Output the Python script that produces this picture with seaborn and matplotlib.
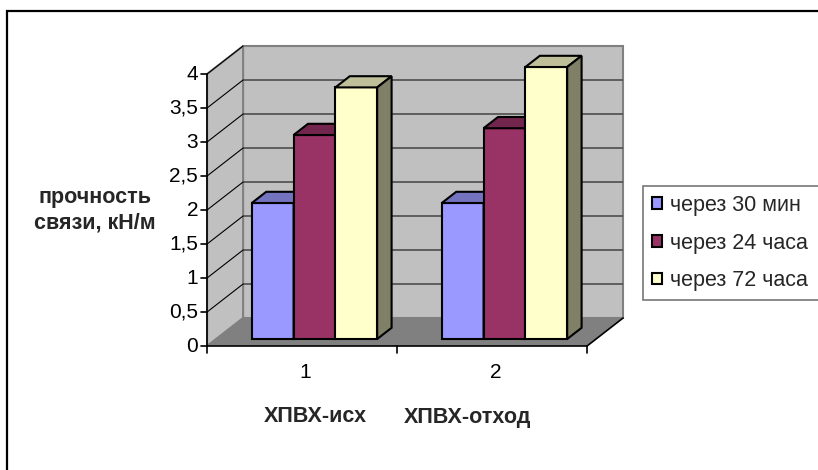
import numpy as np
import pandas as pd
import matplotlib
matplotlib.use("Agg")
import matplotlib.pyplot as plt
import seaborn as sns
from matplotlib.patches import Polygon, Rectangle, Patch
from matplotlib.colors import to_rgba

# ---- data -------------------------------------------------------------
categories = ["1", "2"]
series = ["через 30 мин", "через 24 часа", "через 72 часа"]
vals_30min = [2.0, 2.0]
vals_24h = [3.0, 3.1]
vals_72h = [3.7, 4.0]
y_ticks = [0, 0.5, 1, 1.5, 2, 2.5, 3, 3.5, 4]
y_tick_labels = ["0", "0,5", "1", "1,5", "2", "2,5", "3", "3,5", "4"]
group_titles = ["ХПВХ-исх", "ХПВХ-отход"]
y_title = "прочность\nсвязи, кН/м"

# ---- colours ----------------------------------------------------------
front_colors = ["#9999FF", "#993366", "#FFFFCC"]
top_colors = ["#7373BF", "#73264D", "#BFBF99"]
side_colors = ["#4D4D80", "#4D1A33", "#808066"]
wall_color = "#C0C0C0"
floor_color = "#808080"
edge_gray = "#808080"
grid_color = "#4D4D4D"

W, H = 818, 470
sns.set_theme(style="white")
plt.rcParams["font.family"] = ["Liberation Sans", "DejaVu Sans"]

fig = plt.figure(figsize=(W / 100, H / 100), dpi=100)
ax = fig.add_axes([0, 0, 1, 1])

# oblique projection: category / value units on the bar plane, depth t
CX, CY = 190.0, 68.0          # pixels per category unit / per value unit
OX, OY = 314.5, 339.0         # pixel of (category 0, value 0) on the bar plane
KX, KY = 36.0 / CX, 28.0 / CY  # full floor depth expressed in data units
T_FRONT, T_BACK = -0.25, 0.75
BAR_DEPTH = 0.4
BOX_SHIFT = -0.018            # bars sit slightly right of the category slots
C_MIN, C_MAX = -0.5 + BOX_SHIFT, len(categories) - 0.5 + BOX_SHIFT
V_MAX = y_ticks[-1]


def P(c, v, t=0.0):
    return (c + t * KX, v + t * KY)


# ---- walls and floor --------------------------------------------------
back_wall = [P(C_MIN, 0, T_BACK), P(C_MAX, 0, T_BACK),
             P(C_MAX, V_MAX, T_BACK), P(C_MIN, V_MAX, T_BACK)]
side_wall = [P(C_MIN, 0, T_FRONT), P(C_MIN, 0, T_BACK),
             P(C_MIN, V_MAX, T_BACK), P(C_MIN, V_MAX, T_FRONT)]
floor = [P(C_MIN, 0, T_FRONT), P(C_MAX, 0, T_FRONT),
         P(C_MAX, 0, T_BACK), P(C_MIN, 0, T_BACK)]
ax.add_patch(Polygon(back_wall, closed=True, fc=wall_color, ec=edge_gray, lw=1.5, zorder=1))
ax.add_patch(Polygon(side_wall, closed=True, fc=wall_color, ec=edge_gray, lw=1.5, zorder=1))
ax.add_patch(Polygon(floor, closed=True, fc=floor_color, ec="none", lw=0, zorder=1.2))

# gridlines on the back wall and their continuation on the side wall
for v in y_ticks[1:-1]:
    xs, ys = zip(P(C_MIN, v, T_BACK), P(C_MAX, v, T_BACK))
    ax.plot(xs, ys, color=grid_color, lw=1.2, zorder=1.5, solid_capstyle="butt")
for v in y_ticks[1:]:
    xs, ys = zip(P(C_MIN, v, T_FRONT), P(C_MIN, v, T_BACK))
    ax.plot(xs, ys, color="black", lw=0.8, zorder=1.5)

# ---- bars -------------------------------------------------------------
df = pd.DataFrame({
    "group": categories * 3,
    "series": np.repeat(series, len(categories)),
    "value": vals_30min + vals_24h + vals_72h,
})
sns.barplot(data=df, x="group", y="value", hue="series", hue_order=series,
            order=categories, palette=front_colors, saturation=1, width=0.66,
            edgecolor="black", linewidth=1.5, errorbar=None, legend=False, ax=ax)

rgba_front = [to_rgba(c) for c in front_colors]
dx, dy = BAR_DEPTH * KX, BAR_DEPTH * KY
for p in list(ax.patches):
    if not isinstance(p, Rectangle) or p.get_height() <= 0:
        continue
    fc = tuple(p.get_facecolor())
    k = min(range(3), key=lambda i: sum((a - b) ** 2 for a, b in zip(fc, rgba_front[i])))
    x0, w, h = p.get_x(), p.get_width(), p.get_height()
    z = 3 + k
    p.set_zorder(z)
    top = [(x0, h), (x0 + w, h), (x0 + w + dx, h + dy), (x0 + dx, h + dy)]
    side = [(x0 + w, 0), (x0 + w + dx, dy), (x0 + w + dx, h + dy), (x0 + w, h)]
    ax.add_patch(Polygon(top, closed=True, fc=top_colors[k], ec="black", lw=1.5, zorder=z))
    ax.add_patch(Polygon(side, closed=True, fc=side_colors[k], ec="black", lw=1.5, zorder=z))

# ---- axes drawn on the front of the box -------------------------------
TICK_FS = 15
# value axis
xs, ys = zip(P(C_MIN, 0, T_FRONT), P(C_MIN, V_MAX, T_FRONT))
ax.plot(xs, ys, color="black", lw=1.2, zorder=10)
for v, lab in zip(y_ticks, y_tick_labels):
    x, y = P(C_MIN, v, T_FRONT)
    ax.plot([x - 6 / CX, x], [y, y], color="black", lw=1.2, zorder=10)
    ax.text(x - 9 / CX, y, lab, ha="right", va="center", fontsize=TICK_FS, color="black")

# floor front and right edges
xs, ys = zip(P(C_MIN, 0, T_FRONT), P(C_MAX, 0, T_FRONT), P(C_MAX, 0, T_BACK))
ax.plot(xs, ys, color="black", lw=1.2, zorder=10)
for c in np.arange(C_MIN, C_MAX + 0.01, 1.0):
    x, y = P(c, 0, T_FRONT)
    ax.plot([x, x], [y, y - 7 / CY], color="black", lw=1.2, zorder=10)
for i, lab in enumerate(categories):
    x, y = P(i, 0, T_FRONT)
    ax.text(x, y - 27 / CY, lab, ha="center", va="center", fontsize=TICK_FS, color="black")

ax.set_xlim((0 - OX) / CX, (W - OX) / CX)
ax.set_ylim((OY - H) / CY, OY / CY)
ax.axis("off")

# ---- titles -----------------------------------------------------------
TITLE_FS = 15.5
fig.text(315 / W, 1 - 417 / H, group_titles[0], ha="center", va="center",
         fontsize=TITLE_FS, fontweight="bold")
fig.text(467.5 / W, 1 - 417 / H, group_titles[1], ha="center", va="center",
         fontsize=TITLE_FS, fontweight="bold")
fig.text(95 / W, 1 - 210 / H, y_title, ha="center", va="center",
         multialignment="center", fontsize=TITLE_FS, fontweight="bold", linespacing=1.25)

# ---- legend (box runs past the right edge of the canvas) ---------------
handles = [Patch(facecolor=c, edgecolor="black", lw=1.5, label=s)
           for c, s in zip(front_colors, series)]
leg = fig.legend(handles=handles, loc="upper left", mode="expand",
                 bbox_to_anchor=(643 / W, 0, 200 / W, 1 - 186 / H), borderaxespad=0,
                 fontsize=15.5, frameon=True, fancybox=False, edgecolor="#555555",
                 handlelength=0.47, handleheight=0.47, handletextpad=0.37,
                 labelspacing=0.77, borderpad=0.42)
leg.get_frame().set_linewidth(1.2)

# ---- chart border -----------------------------------------------------
fig.patches.append(Rectangle((7 / W, -0.1), 1.2, (H - 11) / H + 0.1,
                             transform=fig.transFigure, fill=False,
                             ec="black", lw=1.6))

fig.savefig("out.png", dpi=100, facecolor="white")
